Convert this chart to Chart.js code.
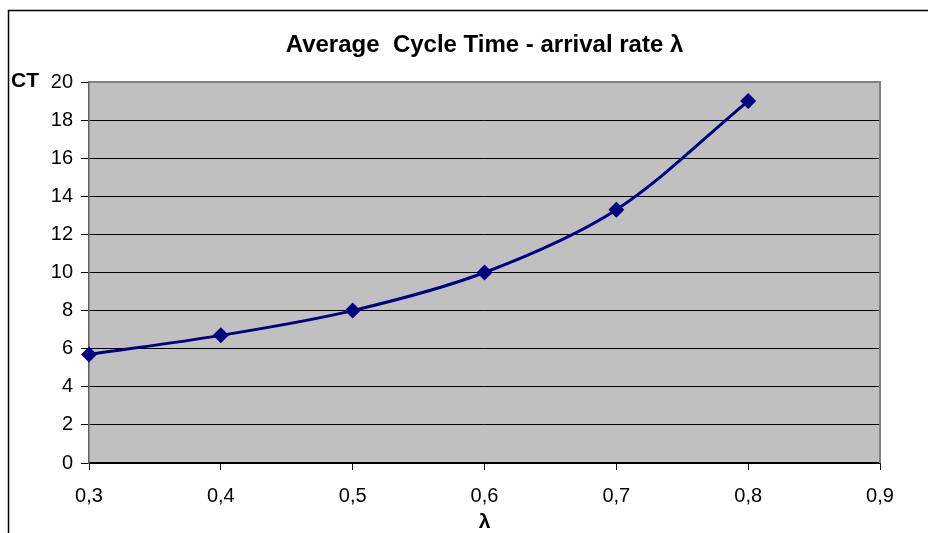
<!DOCTYPE html>
<html>
<head>
<meta charset="utf-8">
<script src="https://cdn.jsdelivr.net/npm/chart.js@4/dist/chart.umd.min.js"></script>
<style>
html,body{margin:0;padding:0;background:#fff;}
canvas{display:block;}
</style>
</head>
<body>
<canvas id="c" width="928" height="533"></canvas>
<script>
const chartTitle = "Average  Cycle Time - arrival rate λ";
const yAxisTitle = "CT";
const xAxisTitle = "λ";
const arrivalRates = [0.3, 0.4, 0.5, 0.6, 0.7, 0.8];
const cycleTimes = [5.7, 6.7, 8.0, 10.0, 13.3, 19.0];
const xTickValues = [0.3, 0.4, 0.5, 0.6, 0.7, 0.8, 0.9];
const yTickValues = [0, 2, 4, 6, 8, 10, 12, 14, 16, 18, 20];

const FONT = "'Liberation Sans', Arial, sans-serif";

const decor = {
  id: 'decor',
  beforeDraw(chart) {
    const {ctx, chartArea: a} = chart;
    ctx.save();
    ctx.fillStyle = '#ffffff';
    ctx.fillRect(0, 0, chart.width, chart.height);
    ctx.fillStyle = '#c0c0c0';
    ctx.fillRect(a.left, a.top, a.right - a.left, a.bottom - a.top);
    ctx.strokeStyle = '#000';
    ctx.lineWidth = 1.5;
    ctx.beginPath();
    ctx.moveTo(8.5, chart.height + 2);
    ctx.lineTo(8.5, 10.5);
    ctx.lineTo(chart.width + 2, 10.5);
    ctx.stroke();
    ctx.restore();
  },
  afterDraw(chart) {
    const {ctx, chartArea: a} = chart;
    ctx.save();
    ctx.strokeStyle = '#808080';
    ctx.lineWidth = 2;
    ctx.beginPath();
    ctx.moveTo(a.left, a.top);
    ctx.lineTo(a.right, a.top);
    ctx.lineTo(a.right, a.bottom);
    ctx.stroke();
    ctx.fillStyle = '#000';
    ctx.textBaseline = 'middle';
    ctx.textAlign = 'center';
    ctx.font = 'bold 24px ' + FONT;
    ctx.fillText(chartTitle, (a.left + a.right) / 2, 45);
    ctx.font = 'bold 21px ' + FONT;
    ctx.textAlign = 'left';
    ctx.fillText(yAxisTitle, 11, 81);
    ctx.textAlign = 'center';
    ctx.fillText(xAxisTitle, (a.left + a.right) / 2, 522);
    ctx.restore();
  }
};

new Chart(document.getElementById('c'), {
  type: 'scatter',
  data: {
    datasets: [{
      data: arrivalRates.map((x, i) => ({x: x, y: cycleTimes[i]})),
      showLine: true,
      borderColor: '#000080',
      backgroundColor: '#000080',
      borderWidth: 3,
      tension: 0.33,
      pointStyle: 'rectRot',
      pointRadius: 8,
      pointBorderWidth: 0,
      pointBackgroundColor: '#000080',
      clip: false
    }]
  },
  options: {
    responsive: false,
    animation: false,
    devicePixelRatio: 1,
    layout: {padding: {top: 82, right: 48, left: 0, bottom: 0}},
    plugins: {legend: {display: false}, tooltip: {enabled: false}, title: {display: false}},
    scales: {
      x: {
        type: 'linear',
        min: 0.3, max: 0.9,
        afterBuildTicks(scale) { scale.ticks = xTickValues.map(v => ({value: v})); },
        afterFit(scale) { scale.height = 70; },
        ticks: {
          color: '#000',
          font: {family: FONT, size: 20},
          padding: 14,
          maxRotation: 0,
          callback: v => Number(v).toFixed(1).replace('.', ',')
        },
        grid: {drawOnChartArea: false, tickLength: 7, color: '#000', lineWidth: 1},
        border: {color: '#000', width: 1.5}
      },
      y: {
        min: 0, max: 20,
        afterBuildTicks(scale) { scale.ticks = yTickValues.map(v => ({value: v})); },
        afterFit(scale) { scale.width = 89; },
        ticks: {
          color: '#000',
          font: {family: FONT, size: 20},
          padding: 8,
          callback: v => String(v)
        },
        grid: {color: '#000', lineWidth: 1, tickLength: 8},
        border: {color: '#606060', width: 1.5}
      }
    }
  },
  plugins: [decor]
});
</script>
</body>
</html>
